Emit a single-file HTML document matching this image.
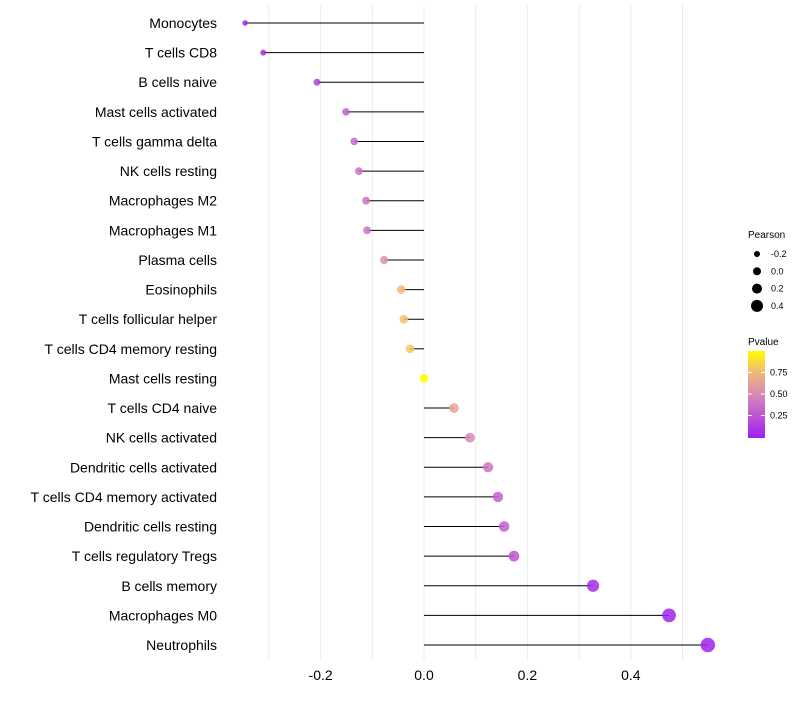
<!DOCTYPE html>
<html><head><meta charset="utf-8"><style>
body{margin:0;background:#fff;font-family:"Liberation Sans",sans-serif}
</style></head><body>
<svg id="chart" width="800" height="700" xmlns="http://www.w3.org/2000/svg">
<defs><linearGradient id="pg" x1="0" y1="1" x2="0" y2="0">
<stop offset="0" stop-color="#A020F0"/><stop offset="0.5" stop-color="#D889B8"/><stop offset="0.75" stop-color="#EFB87A"/><stop offset="1" stop-color="#FFFF00"/></linearGradient></defs>
<g id="grid"></g>
<g id="marks"></g>
<g id="labels"></g>
<g id="xt"></g>
<g font-size="9" fill="#000">
<text x="748" y="238" font-size="10">Pearson</text>
<g id="sizeleg"></g>
</g>
<g font-size="9">
<text x="748" y="345" font-size="10">Pvalue</text>
<rect x="748" y="351" width="17" height="87" fill="url(#pg)"/>
<g id="cleg"></g>
</g>
</svg>
<script>
const categories=["Monocytes","T cells CD8","B cells naive","Mast cells activated","T cells gamma delta","NK cells resting","Macrophages M2","Macrophages M1","Plasma cells","Eosinophils","T cells follicular helper","T cells CD4 memory resting","Mast cells resting","T cells CD4 naive","NK cells activated","Dendritic cells activated","T cells CD4 memory activated","Dendritic cells resting","T cells regulatory  Tregs","B cells memory","Macrophages M0","Neutrophils"];
const pearson=[-0.346,-0.311,-0.207,-0.151,-0.135,-0.126,-0.112,-0.110,-0.077,-0.044,-0.039,-0.027,0.0,0.058,0.089,0.124,0.143,0.155,0.174,0.327,0.474,0.549];
const pvalues=[0.02,0.05,0.15,0.3,0.35,0.37,0.4,0.4,0.55,0.75,0.78,0.8,1.0,0.65,0.5,0.4,0.3,0.3,0.25,0.05,0.01,0.005];
const xTicks=[-0.2,0,0.2,0.4];
const sizeLegend=[-0.2,0,0.2,0.4];
const colorTicks=[0.25,0.5,0.75];
const NS="http://www.w3.org/2000/svg";
const x=v=>424+v*517;
const y=i=>23+i*(622/21);
const r=v=>4.5+5*v;
const stops=[[0,[160,32,240]],[0.5,[216,137,184]],[0.75,[239,184,122]],[1,[255,255,0]]];
function col(p){for(let k=1;k<stops.length;k++){if(p<=stops[k][0]){const a=stops[k-1],b=stops[k],t=(p-a[0])/(b[0]-a[0]);return "rgb("+a[1].map((c,j)=>Math.round(c+(b[1][j]-c)*t)).join(",")+")";}}return "rgb(255,255,0)";}
function mk(t,at,parent){const e=document.createElementNS(NS,t);for(const k in at)e.setAttribute(k,at[k]);parent.appendChild(e);return e;}
const grid=document.getElementById('grid');
for(let g=-0.3;g<=0.51;g+=0.1){const l=mk('line',{x1:x(g),x2:x(g),y1:5,y2:660,stroke:'#ebebeb','stroke-width':1},grid);

}
const marks=document.getElementById('marks'),labels=document.getElementById('labels');
categories.forEach((c,i)=>{
const l=mk('line',{x1:x(0),x2:x(pearson[i]),y1:y(i),y2:y(i),stroke:'#000','stroke-width':1},marks);


const d=mk('circle',{cx:x(pearson[i]),cy:y(i),r:r(pearson[i]),fill:col(pvalues[i]),'fill-opacity':0.85},marks);


const t=mk('text',{x:217,y:y(i)+5,'text-anchor':'end','font-size':14,fill:'#000'},labels);t.textContent=c;


});
const xt=document.getElementById('xt');
xTicks.forEach(v=>{const t=mk('text',{x:x(v),y:680,'text-anchor':'middle','font-size':14,fill:'#000'},xt);t.textContent=v===0?"0.0":v.toFixed(1);

});
const sl=document.getElementById('sizeleg');
sizeLegend.forEach((v,i)=>{const yy=254+i*17.3;const c=mk('circle',{cx:757,cy:yy,r:r(v)-0.5,fill:'#000'},sl);


const t=mk('text',{x:771,y:yy+3},sl);t.textContent=v===0?"0.0":v.toFixed(1);

});
const cl=document.getElementById('cleg');
colorTicks.forEach(v=>{const yy=437-v*86;mk('line',{x1:748,x2:752,y1:yy,y2:yy,stroke:'#fff'},cl);mk('line',{x1:761,x2:765,y1:yy,y2:yy,stroke:'#fff'},cl);
const t=mk('text',{x:770,y:yy+3},cl);t.textContent=v.toFixed(2);

});
</script>
</body></html>
